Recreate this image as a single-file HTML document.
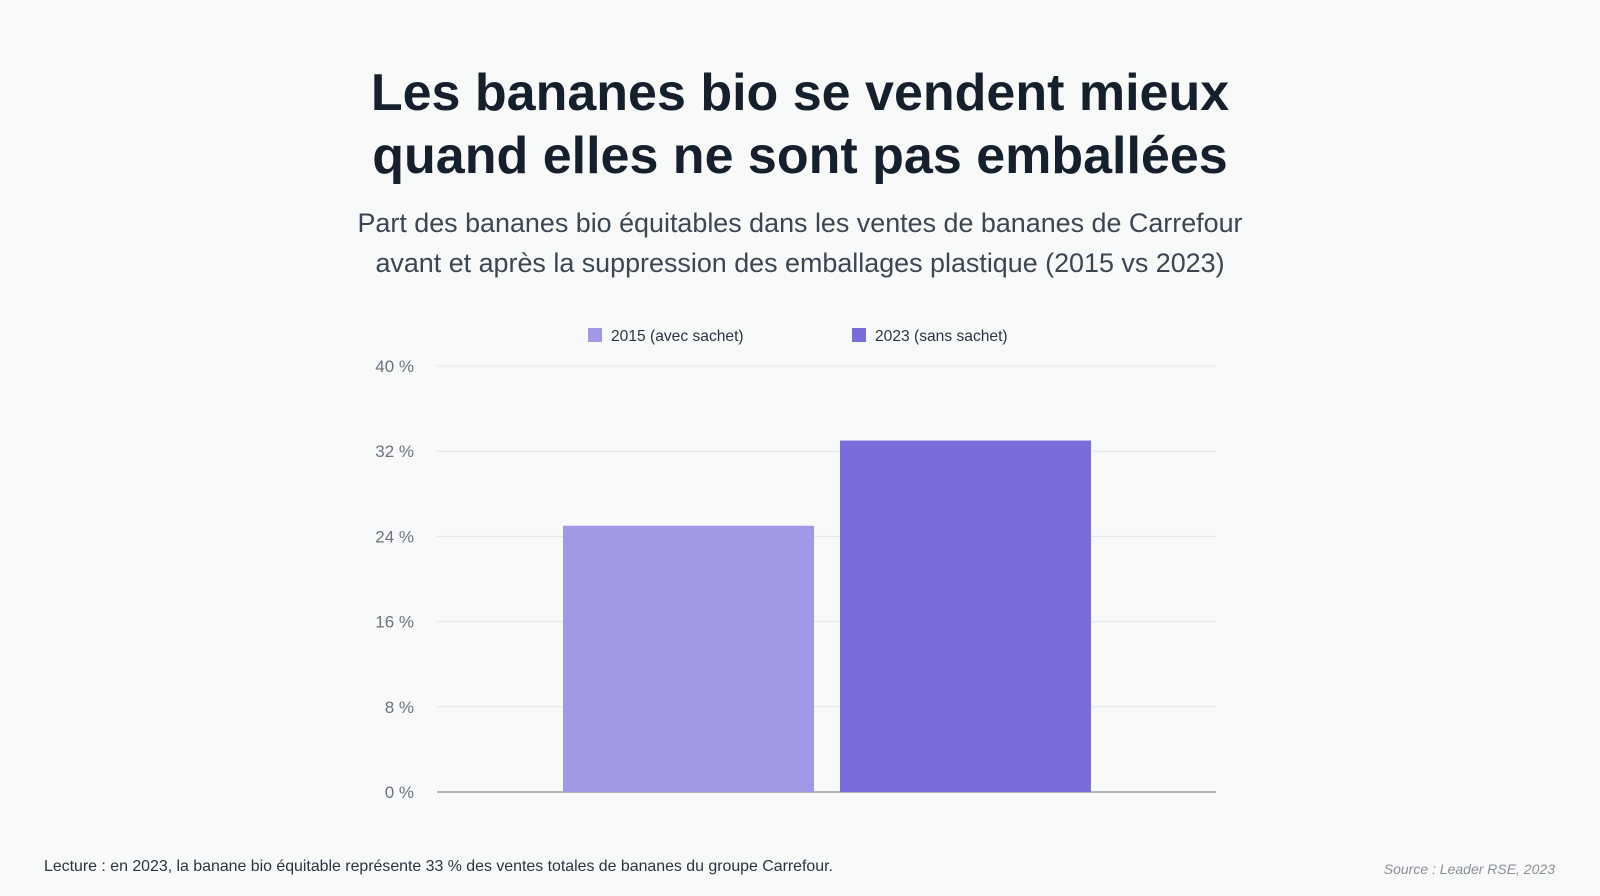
<!DOCTYPE html>
<html><head><meta charset="utf-8"><style>
body{margin:0;width:1600px;height:896px;background:#f8f9f9;font-family:"Liberation Sans",sans-serif;overflow:hidden;position:relative}
.t{position:absolute;left:0;width:1600px;text-align:center}
</style></head><body>
<div class="t" style="top:62px;font-size:52px;font-weight:bold;color:#16202c;line-height:63px">Les bananes bio se vendent mieux<br>quand elles ne sont pas emballées</div>
<div class="t" style="top:203px;font-size:26.9px;color:#3b4653;line-height:40px">Part des bananes bio équitables dans les ventes de bananes de Carrefour<br>avant et après la suppression des emballages plastique (2015 vs 2023)</div>
<svg id="c" width="1600" height="896" style="position:absolute;left:0;top:0"></svg>
<div style="position:absolute;left:44px;top:858px;font-size:15.9px;color:#2a3440">Lecture : en 2023, la banane bio équitable représente 33 % des ventes totales de bananes du groupe Carrefour.</div>
<div style="position:absolute;right:45px;top:861px;font-size:14px;color:#8a9099;font-style:italic">Source : Leader RSE, 2023</div>
<script>
const categories=["2015 (avec sachet)","2023 (sans sachet)"];
const values=[25,33];
const colors=["#a299e6","#796ddb"];
const ticks=[0,8,16,24,32,40];
const tickLabels=["0 %","8 %","16 %","24 %","32 %","40 %"];
const svg=document.getElementById('c'),NS='http://www.w3.org/2000/svg';
const y0=792,y1=366,xL=437,xR=1216;
const y=v=>y0-(v/40)*(y0-y1);
const barX=[563,840],bw=251;
function mk(t,a){const e=document.createElementNS(NS,t);for(const k in a)e.setAttribute(k,a[k]);svg.appendChild(e);return e;}
ticks.forEach((v,i)=>{
 const l=mk('line',{x1:xL,x2:xR,y1:y(v),y2:y(v),stroke:v?'#e3e5e8':'#9a9ea6','stroke-width':v?1:1.5});
 
 
 const t=mk('text',{x:414,y:y(v)+6,'text-anchor':'end','font-size':17,fill:'#6b7280','font-family':'Liberation Sans, sans-serif'});
 t.textContent=tickLabels[i];
 
 
});
values.forEach((v,i)=>{
 const r=mk('rect',{x:barX[i],y:y(v),width:bw,height:y0-y(v),fill:colors[i]});
 
 
});
const lx=[588,852];
categories.forEach((c,i)=>{
 const s=mk('rect',{x:lx[i],y:328,width:14,height:14,fill:colors[i]});
 
 
 const t=mk('text',{x:lx[i]+23,y:341,'font-size':15.6,fill:'#2a3440','font-family':'Liberation Sans, sans-serif'});
 t.textContent=c;
 
 
});
</script>
</body></html>
